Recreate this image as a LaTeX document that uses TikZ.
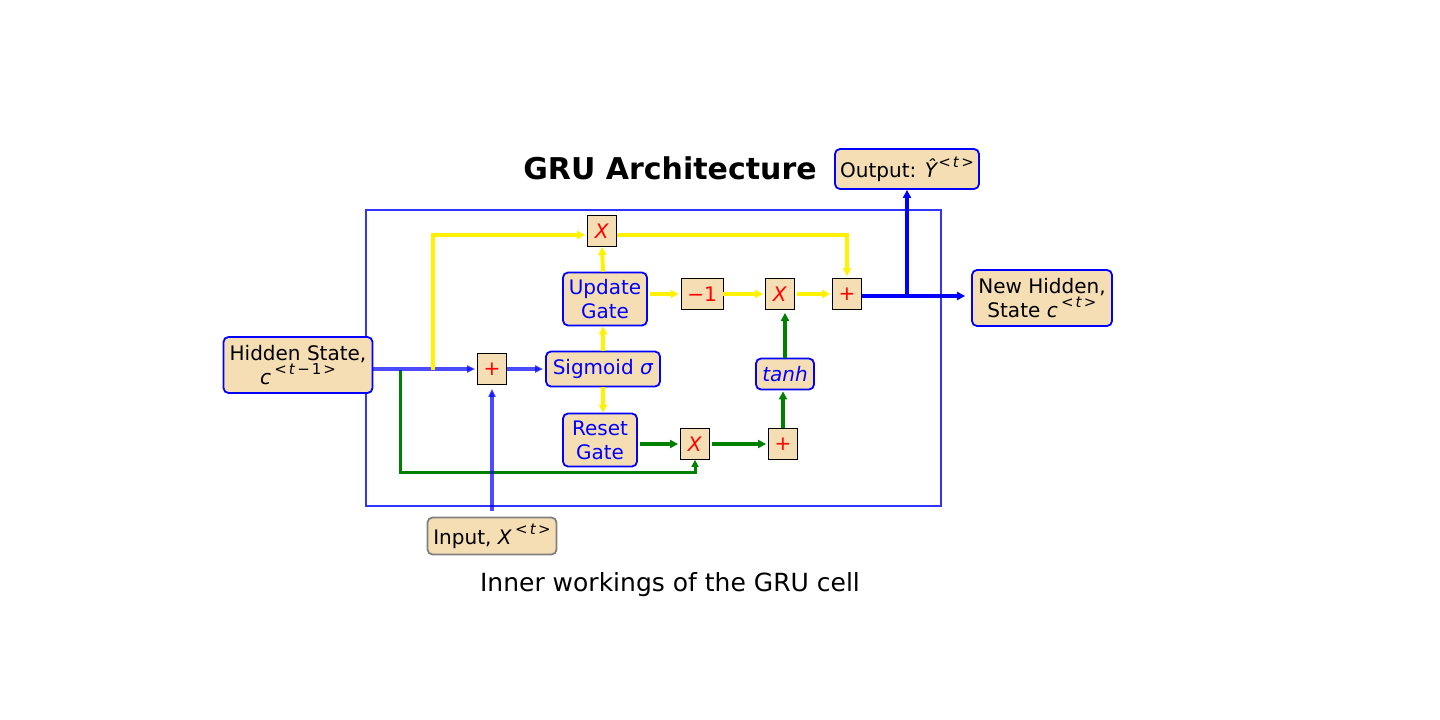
\documentclass[tikz,border=0pt]{standalone}
\usepackage{fontspec}
\setmainfont{DejaVu Sans}
\usetikzlibrary{arrows.meta,calc}
\definecolor{wheat}{HTML}{F5DEB3}
\definecolor{mgreen}{HTML}{008000}
\newcommand{\mysup}[1]{\raisebox{0.9ex}{\fontsize{15}{15}\selectfont #1}}
\begin{document}
\begin{tikzpicture}[x=1pt,y=-1pt,
  box/.style={draw=blue, line width=1.8pt, fill=wheat, rounded corners=5pt, inner sep=0pt, align=center, font=\fontsize{20}{24}\selectfont},
  gate/.style={box, text=blue},
  sq/.style={draw=black, line width=0.8pt, fill=wheat, inner sep=0pt, minimum width=29pt, minimum height=31pt, text=red, font=\fontsize{20}{24}\selectfont},
  tipA/.style={-{Triangle[length=8pt,width=8pt]}},
  yl/.style={draw=yellow, line width=4pt, tipA},
  gr/.style={draw=mgreen, line width=4pt, tipA},
  grt/.style={draw=mgreen, line width=3pt, -{Triangle[length=7pt,width=7pt]}},
  bls/.style={draw=blue, opacity=0.7, line width=3.5pt, -{Triangle[length=8pt,width=7pt]}},
  blo/.style={draw=blue, line width=4pt, tipA},
]
\useasboundingbox (0,0) rectangle (1440,720);

% outer cell frame
\draw[blue!80, line width=1.5pt] (366,210) rectangle (941,506);

% titles
\node (title) at (670,168) {\fontsize{30}{36}\selectfont\bfseries GRU Architecture};
\node (caption) at (670,585) {\fontsize{25}{30}\selectfont Inner workings of the GRU cell};

% boxes
\node[box, minimum width=144pt, minimum height=40pt] (out) at (907,169) {Output: \textit{Ŷ}\mysup{<\hspace{2pt}\textit{t}\hspace{2pt}>}};
\node[box, minimum width=140pt, minimum height=56pt] (newh) at (1042,298) {New Hidden,\\ State \textit{c}\,\mysup{<\hspace{2pt}\textit{t}\hspace{2pt}>}};
\node[box, minimum width=149pt, minimum height=56pt] (hid) at (298,365) {Hidden State,\\ \textit{c}\,\mysup{<\hspace{2pt}\textit{t}\hspace{2pt}−\hspace{2pt}1\hspace{2pt}>}};
\node[box, draw=gray, minimum width=129pt, minimum height=37pt] (inp) at (492,536) {Input, \textit{X}\,\mysup{<\hspace{2pt}\textit{t}\hspace{2pt}>}};

\node[gate, minimum width=84pt, minimum height=53pt] (upd) at (605,299) {Update\\Gate};
\node[gate, minimum width=114pt, minimum height=35pt] (sig) at (603,369) {Sigmoid \textit{σ}};
\node[gate, minimum width=74pt, minimum height=53pt] (rst) at (600,440) {Reset\\Gate};
\node[gate, minimum width=58pt, minimum height=31pt] (tanh) at (785,374) {\textit{tanh}};

% small operator squares
\node[sq] (xtop) at (602,231) {\textit{X}};
\node[sq] (p1) at (492,369) {+};
\node[sq, minimum width=42pt] (m1) at (702,294) {−1};
\node[sq] (xmid) at (780,294) {\textit{X}};
\node[sq] (p3) at (847,294) {+};
\node[sq] (xbot) at (695,444) {\textit{X}};
\node[sq] (p2) at (783,444) {+};

% helper coordinates
\coordinate (yb) at (433,370);
\coordinate (gb) at (400,370);
\coordinate (gc) at (400,472);

% green thin path (under)
\draw[grt] (gb) -- (gc) -| (xbot.south);

% blue inputs
\draw[bls, shorten >=2pt] (hid.east |- p1.west) -- (p1.west);
\draw[bls, shorten >=2pt] (p1.east) -- (sig.west);
\draw[bls, shorten >=4pt] ($(inp.north)+(0,-6)$) -- (p1.south);

% yellow paths
\draw[yl, shorten >=2pt] (yb) |- ($(xtop.west)+(0,4)$);
\draw[yl, shorten >=2pt] ($(xtop.east)+(0,4)$) -| (p3.north);
\draw[yl] (sig.north) -- (sig.north |- upd.south);
\draw[yl] (sig.north |- upd.north) -- (xtop.south);
\draw[yl, shorten <=2pt, shorten >=2pt] (upd.east |- m1.west) -- (m1.west);
\draw[yl, shorten >=2pt] (m1.east) -- (xmid.west);
\draw[yl, shorten <=2pt, shorten >=2pt] (xmid.east) -- (p3.west);
\draw[yl] (sig.south) -- (sig.south |- rst.north);

% green paths
\draw[gr, shorten <=2pt, shorten >=2pt] (rst.east |- xbot.west) -- (xbot.west);
\draw[gr, shorten <=2pt, shorten >=2pt] (xbot.east) -- (p2.west);
\draw[gr, shorten >=1pt] (p2.north) -- (p2.north |- tanh.south);
\draw[gr, shorten >=3pt] (tanh.north) -- (tanh.north |- xmid.south);

% blue outputs
\coordinate (bo1) at ($(p3.east)+(0,2)$);
\draw[blo, shorten >=6pt] (bo1) -- (bo1 -| newh.west);
\draw[blo] (bo1 -| out.south) -- (out.south);
\end{tikzpicture}
\end{document}
